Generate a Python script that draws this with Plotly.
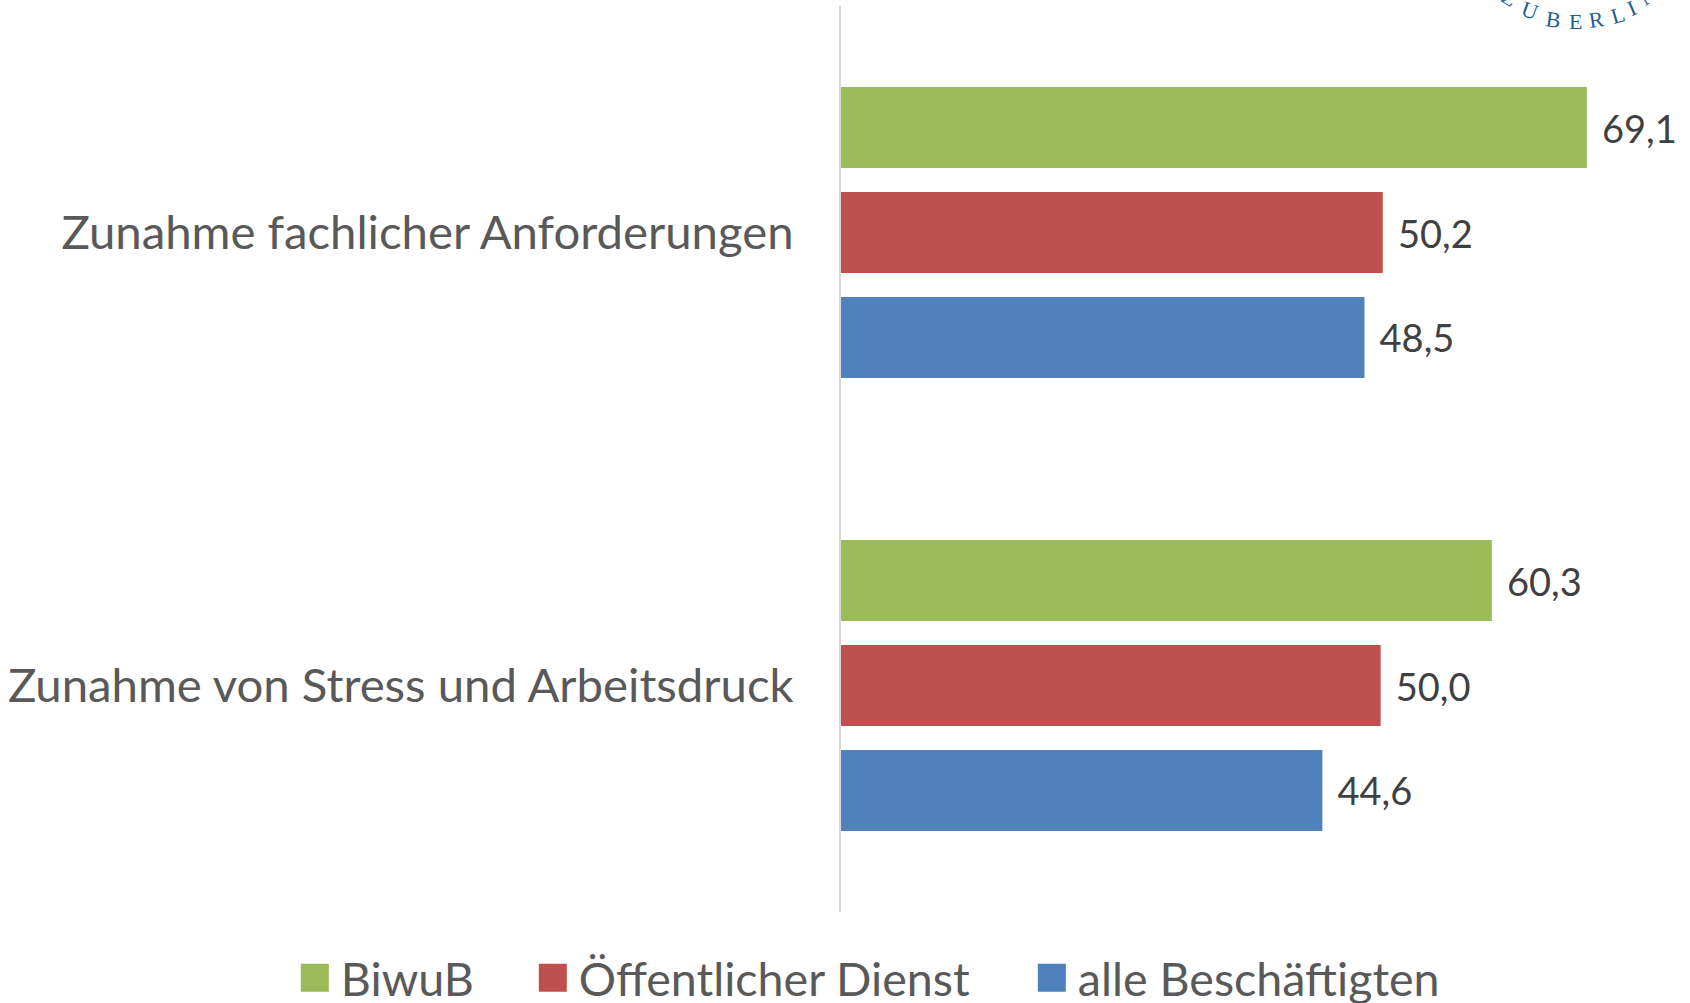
import plotly.graph_objects as go

categories = ["Zunahme fachlicher Anforderungen", "Zunahme von Stress und Arbeitsdruck"]
series_names = ["BiwuB", "Öffentlicher Dienst", "alle Beschäftigten"]
biwub = [69.1, 60.3]
oeffentlich = [50.2, 50.0]
alle = [48.5, 44.6]
colors = ["#9BBB59", "#C0504D", "#4F81BD"]

logo_letters = ["Z", "U", "B", "E", "R", "L", "I", "N"]
logo_x = [1509, 1530, 1553, 1575, 1596, 1617, 1631, 1648]
logo_y = [-3, 10, 20, 22, 20, 15, 8, -4]
logo_rot = [30, 20, 8, 0, -8, -16, -24, -32]

W, H = 1690, 1003
L, T, B = 840.5, 6, 91
PW, PH = W - L, H - B - T
FONT = "Lato, Carlito, Calibri, sans-serif"
legend_widths = [181, 442, 360]

fig = go.Figure()
for name, vals, col, lw in zip(series_names, [biwub, oeffentlich, alle], colors, legend_widths):
    fig.add_trace(go.Bar(
        name=name, y=categories, x=vals, orientation="h",
        marker=dict(color=col, line=dict(width=0)),
        text=["\u00a0\u200a" + f"{v:.1f}".replace(".", ",") for v in vals],
        textposition="outside", cliponaxis=False, legendwidth=lw,
        textfont=dict(family=FONT, size=38, color="#404040"),
    ))

ann = [dict(x=(px - L) / PW, y=(H - B - py) / PH, xref="paper", yref="paper",
            xanchor="center", yanchor="middle",
            text=t, showarrow=False, textangle=r,
            font=dict(family="Liberation Serif", size=22, color="#1F5F8F"))
       for t, px, py, r in zip(logo_letters, logo_x, logo_y, logo_rot)]

fig.update_layout(
    width=W, height=H, autosize=False,
    margin=dict(l=L, r=0, t=T, b=B, pad=0, autoexpand=False),
    paper_bgcolor="white", plot_bgcolor="white",
    barmode="group", bargap=0.305, bargroupgap=0.228,
    showlegend=True,
    legend=dict(orientation="h", x=(288 - L) / PW, xanchor="left",
                y=-66 / PH, yanchor="middle", itemwidth=42,
                traceorder="normal", font=dict(family=FONT, size=46.6, color="#595959"),
                itemclick=False, itemdoubleclick=False, bgcolor="rgba(0,0,0,0)"),
    annotations=ann,
    xaxis=dict(range=[0, 78.66], visible=False, showgrid=False, zeroline=False),
    yaxis=dict(autorange="reversed", showline=True, linecolor="#D9D9D9", linewidth=2,
               ticks="", ticklabelstandoff=36, showgrid=False, zeroline=False,
               tickfont=dict(family=FONT, size=47.3, color="#595959")),
)
post = """
document.body.style.margin = '0';
var gd = document.getElementById('{plot_id}');
function bigSwatches() {
  gd.querySelectorAll('.legendpoints path').forEach(function(p){
    p.setAttribute('d','M14,14H-14V-14H14Z');
  });
}
bigSwatches();
gd.on('plotly_afterplot', bigSwatches);
setTimeout(bigSwatches, 50);
"""
fig.write_html("out.html", post_script=post, config={"displayModeBar": False})
